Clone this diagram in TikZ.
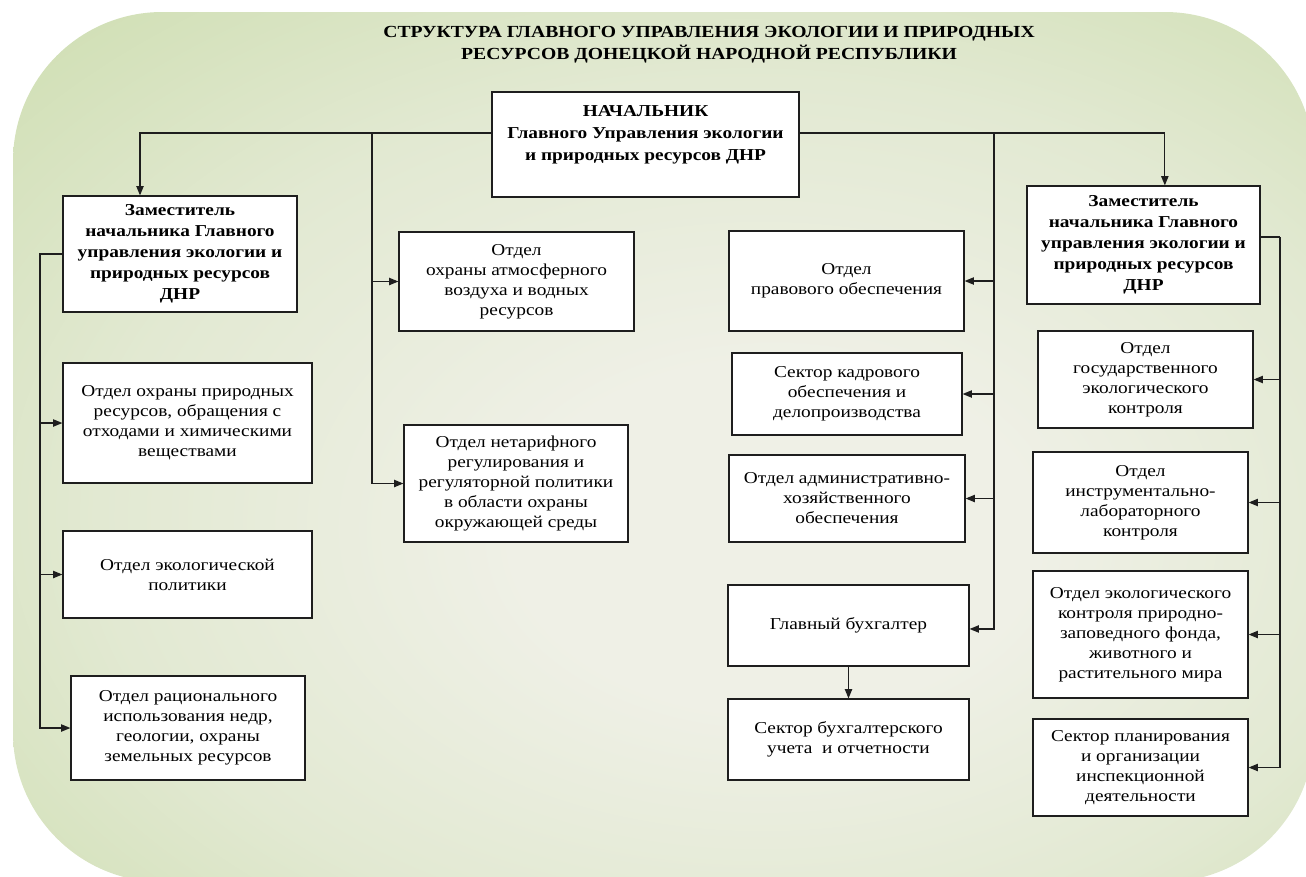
\documentclass[tikz,border=0pt]{standalone}
\usepackage{fontspec}
\setmainfont{Liberation Serif}[FakeStretch=1.16]
\usetikzlibrary{arrows.meta,calc}
\definecolor{bgin}{HTML}{EFF0E6}
\definecolor{bgmid}{HTML}{E2E9D2}
\definecolor{bgmid2}{HTML}{D0DFB4}
\definecolor{bgedge}{HTML}{C3D69C}
\definecolor{bgout}{HTML}{B5CC88}
\definecolor{lncol}{HTML}{1E1E1E}
\pgfdeclareradialshading{bgshade}{\pgfpoint{5bp}{-6bp}}{color(0bp)=(bgin); color(10bp)=(bgin); color(25bp)=(bgmid); color(38bp)=(bgmid2); color(50bp)=(bgedge); color(72bp)=(bgout)}
\newcommand\bodyfont{\fontsize{12.5}{15}\selectfont}
\newcommand\boldbodyfont{\bfseries\fontsize{12.5}{15.8}\selectfont}
\newcommand\titlefont{\bfseries\fontsize{12.7}{16.5}\selectfont}
\tikzset{
  box/.style={draw=lncol, line width=0.9pt, fill=white, align=center, inner sep=2pt, font=\bodyfont},
  bbox/.style={box, font=\boldbodyfont},
  arr/.style={-{Triangle[length=7pt,width=5.5pt]}, line width=0.9pt, draw=lncol},
  con/.style={line width=0.9pt, draw=lncol}
}
\newcommand\bx[7]{%
  \pgfmathsetmacro\bxw{(#4-#2)*0.75}%
  \pgfmathsetmacro\bxh{(#5-#3)*0.75}%
  \node[#6, minimum width=\bxw pt, minimum height=\bxh pt] (#1) at ({(#2+#4)/2},{(#3+#5)/2}) {#7};}
\begin{document}
\begin{tikzpicture}[x=0.75pt,y=-0.75pt]
\useasboundingbox (0,0) rectangle (1306,876);
\begin{scope}
\clip (0,0) rectangle (1306,876);
\shade[shading=bgshade, rounded corners=112pt] (13,12) rectangle (1314,882);
\end{scope}

\node[font=\titlefont, align=center] (title) at (709,45) {СТРУКТУРА ГЛАВНОГО УПРАВЛЕНИЯ ЭКОЛОГИИ И ПРИРОДНЫХ\\РЕСУРСОВ ДОНЕЦКОЙ НАРОДНОЙ РЕСПУБЛИКИ};

\bx{boss}{492}{92}{799}{197}{box}{}
\node[anchor=north, font=\boldbodyfont, align=center, inner sep=0pt] (bosstxt) at ([yshift=-10pt]boss.north) {НАЧАЛЬНИК\\[1pt]Главного Управления экологии\\[1pt]и природных ресурсов ДНР};

\bx{dL}{63}{196}{297}{312}{bbox}{Заместитель\\начальника Главного\\управления экологии и\\природных ресурсов\\ДНР}
\bx{dR}{1027}{186}{1260}{304}{bbox}{Заместитель\\начальника Главного\\управления экологии и\\природных ресурсов\\ДНР}

\bx{L1}{63}{363}{312}{483}{box}{Отдел охраны природных\\ресурсов, обращения с\\отходами и химическими\\веществами}
\bx{L2}{63}{531}{312}{618}{box}{Отдел экологической\\политики}
\bx{L3}{71}{676}{305}{780}{box}{Отдел рационального\\использования недр,\\геологии, охраны\\земельных ресурсов}

\bx{otdA}{399}{232}{634}{331}{box}{Отдел\\охраны атмосферного\\воздуха и водных\\ресурсов}
\bx{otdN}{404}{425}{628}{542}{box}{Отдел нетарифного\\регулирования и\\регуляторной политики\\в области охраны\\окружающей среды}

\bx{pravo}{729}{231}{964}{331}{box}{Отдел\\правового обеспечения}
\bx{kadr}{732}{353}{962}{435}{box}{Сектор кадрового\\обеспечения и\\делопроизводства}
\bx{admin}{729}{455}{965}{542}{box}{Отдел административно-\\хозяйственного\\обеспечения}
\bx{glavbuh}{728}{585}{969}{666}{box}{Главный бухгалтер}
\bx{sekBuh}{728}{699}{969}{780}{box}{Сектор бухгалтерского\\учета~ и отчетности}

\bx{G}{1038}{331}{1253}{428}{box}{Отдел\\государственного\\экологического\\контроля}
\bx{I}{1033}{452}{1248}{553}{box}{Отдел\\инструментально-\\лабораторного\\контроля}
\bx{E}{1033}{571}{1248}{698}{box}{Отдел экологического\\контроля природно-\\заповедного фонда,\\животного и\\растительного мира}
\bx{S}{1033}{719}{1248}{816}{box}{Сектор планирования\\и организации\\инспекционной\\деятельности}

% connectors from the head
\draw[arr] ([yshift=8.6pt]boss.west) -| ([xshift=-30pt]dL.north);
\draw[arr] ([yshift=8.6pt]boss.east) -| ([xshift=16pt]dR.north);
\coordinate (jM) at (372,133);
\draw[arr] (jM) |- (otdA.west);
\draw[arr] (jM) |- (otdN.west);
\coordinate (jR) at (994,133);
\draw[arr] (jR) |- (pravo.east);
\draw[arr] (jR) |- (kadr.east);
\draw[arr] (jR) |- (admin.east);
\draw[arr] (jR) |- ([yshift=-2.6pt]glavbuh.east);
\draw[arr] (glavbuh.south) -- (sekBuh.north);

% left deputy
\coordinate (jL) at (40,254);
\draw[arr] (dL.west) -- (jL) |- (L3.west);
\draw[arr] (jL) |- (L1.west);
\draw[arr] (jL) |- (L2.west);

% right deputy
\coordinate (jRR) at (1280,237);
\draw[con] ([yshift=6pt]dR.east) -- (jRR);
\draw[arr] (jRR) |- (G.east);
\draw[arr] (jRR) |- (I.east);
\draw[arr] (jRR) |- (E.east);
\draw[arr] (jRR) |- (S.east);
\end{tikzpicture}
\end{document}
